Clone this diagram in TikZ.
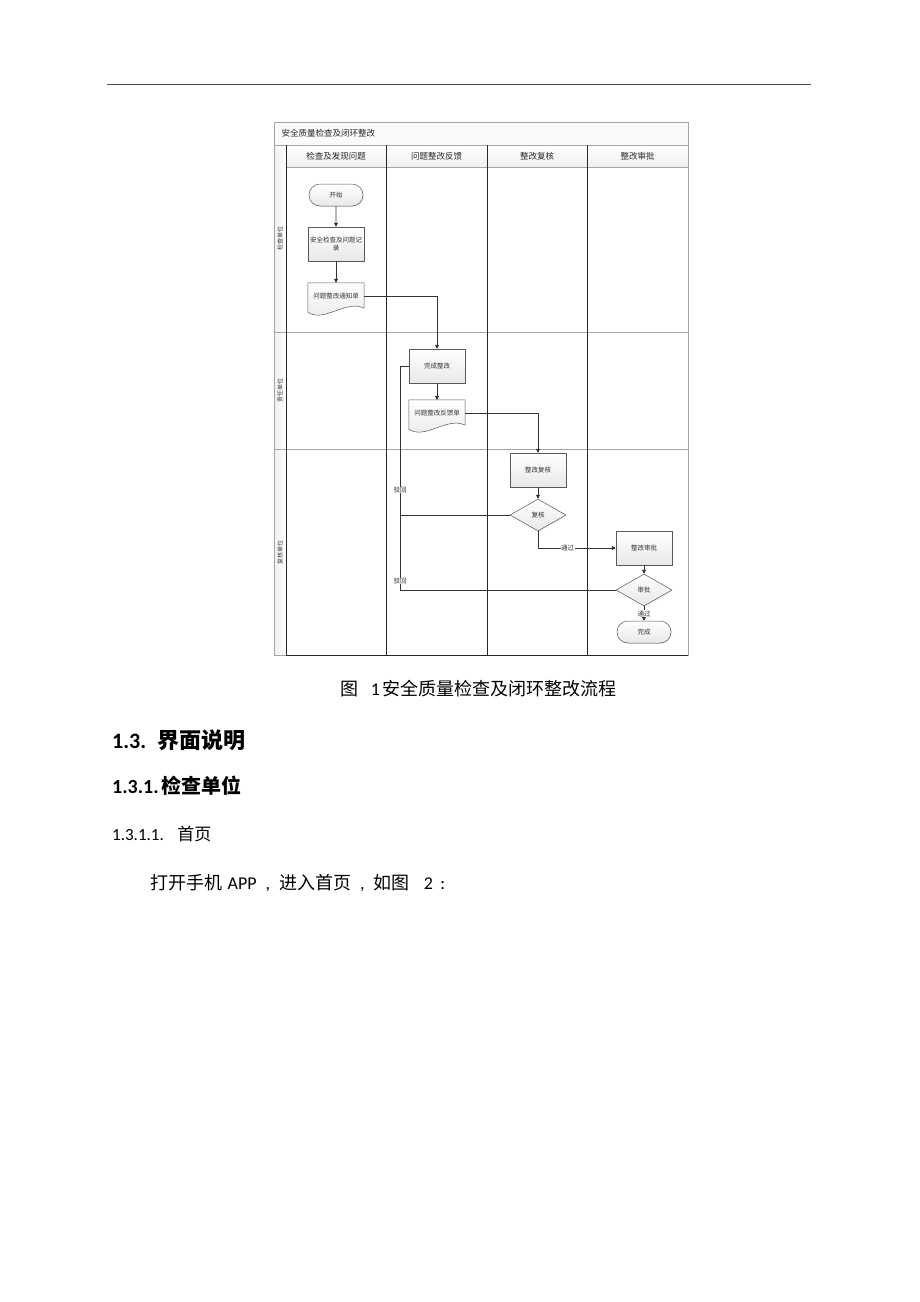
\documentclass[tikz,border=0pt]{standalone}
\usepackage{fontspec}
\setmainfont{Carlito}
\newfontfamily\cjk{Noto Sans CJK SC}
\usetikzlibrary{shapes.geometric,shapes.misc,arrows.meta,calc,backgrounds,shadows}
\pgfdeclarelayer{bottom}
\pgfsetlayers{bottom,background,main}
\tikzset{
  frameline/.style={draw=gray!70, line width=0.6pt},
  colline/.style={draw=black!85, line width=0.8pt},
  boxbase/.style={draw=gray!70!black, line width=0.5pt, top color=white, bottom color=gray!18,
     drop shadow={opacity=0.15, shadow xshift=1pt, shadow yshift=-1pt},
     font=\cjk\fontsize{6.5}{8}\selectfont, text=black!80, align=center, inner sep=1pt},
  proc/.style={boxbase, rectangle, minimum width=56pt, minimum height=34pt},
  term/.style={boxbase, rounded rectangle, minimum width=56pt, minimum height=22pt},
  decide/.style={boxbase, diamond, aspect=1.75, minimum width=56pt, minimum height=32pt, inner sep=0pt},
  docnode/.style={font=\cjk\fontsize{6.5}{8}\selectfont, text=black!80, minimum width=56pt, minimum height=26pt, inner sep=1pt},
  docpath/.style={draw=gray!70!black, line width=0.5pt, top color=white, bottom color=gray!18},
  conn/.style={draw=black!80, line width=0.6pt},
  arr/.style={conn, -{Triangle[length=4pt,width=4pt]}},
  lbl/.style={font=\cjk\fontsize{6.5}{8}\selectfont, text=black!80, fill=white, inner sep=0.5pt},
  hdr/.style={font=\cjk\fontsize{8.5}{10}\selectfont, text=black!85},
  lane/.style={font=\cjk\fontsize{6}{7}\selectfont, text=black!75, rotate=90},
  bodytext/.style={anchor=west, inner sep=0pt, text=black},
}
\newcommand\docshape[1]{%
  \path[docpath] (#1.north west) -- (#1.north east) -- ($(#1.south east)+(0,-1)$)
   .. controls ($(#1.south)+(10,-10)$) and ($(#1.south)+(-12,14)$) .. ($(#1.south west)+(0,3)$) -- cycle;}
\begin{document}
\begin{tikzpicture}[x=1pt,y=-1pt]
\useasboundingbox (0,0) rectangle (920,1302);
\begin{pgfonlayer}{bottom}
\fill[white] (0,0) rectangle (920,1302);
\end{pgfonlayer}
% page header line
\coordinate (hl) at (107,84.5);
\coordinate (hr) at (811,84.5);
\draw[line width=1.3pt, black!70] (hl) -- (hr);

% swimlane frame
\begin{pgfonlayer}{bottom}
\path[fill=gray!4] (274,122) rectangle (688,145);
\path[top color=white, bottom color=gray!12] (286,145) rectangle (688,167);
\path[left color=gray!12, right color=white] (274,145) rectangle (286,655);
\end{pgfonlayer}
\draw[frameline] (274,122) rectangle (688,655);
\draw[frameline] (274,145) -- (688,145);
\draw[frameline] (286,167) -- (688,167);
\draw[frameline] (286,332) -- (688,332);
\draw[frameline] (286,449) -- (688,449);
\draw[frameline] (274,449) -- (286,449);
\draw[frameline] (274,332) -- (286,332);
\draw[colline] (286,145) -- (286,655);
\draw[colline] (386,145) -- (386,655);
\draw[colline] (487,145) -- (487,655);
\draw[colline] (587,145) -- (587,655);
\draw[colline] (286,655) -- (688,655);

\node[hdr, anchor=west] (title) at (278,133.5) {安全质量检查及闭环整改};
\node[hdr] (h1) at (336,156) {检查及发现问题};
\node[hdr] (h2) at (436.5,156) {问题整改反馈};
\node[hdr] (h3) at (537,156) {整改复核};
\node[hdr] (h4) at (637.5,156) {整改审批};
\node[lane] (l1) at (280,238) {检查单位};
\node[lane] (l2) at (280,390) {责任单位};
\node[lane] (l3) at (280,552) {复核单位};

% shapes
\node[term] (start) at (336,195) {开始};
\node[proc] (rec) at (336,244) {安全检查及问题记\\录};
\node[docnode] (notice) at (336,296) {问题整改通知单};
\node[proc] (fix) at (437,366) {完成整改};
\node[docnode] (fb) at (437,413) {问题整改反馈单};
\node[proc] (review) at (538,470) {整改复核};
\node[decide] (d1) at (538,515) {复核};
\node[proc] (approve) at (644,548) {整改审批};
\node[decide] (d2) at (644,590) {审批};
\node[term] (finish) at (644,632) {完成};
\begin{pgfonlayer}{background}
\docshape{notice}
\docshape{fb}
\end{pgfonlayer}
\coordinate (cx) at (400,0);

% connectors
\draw[arr] (start) -- (rec);
\draw[arr] (rec) -- (notice);
\draw[arr] (notice.east) -| (fix.north);
\draw[arr] (fix) -- (fb);
\draw[arr] (fb.east) -| (review.north);
\draw[arr] (review) -- (d1);
\draw[conn] (d1.west) -- (d1.west -| cx) -- (fix.west -| cx) -- (fix.west);
\draw[conn] (d2.west) -- (d2.west -| cx) -- (d1.west -| cx);
\draw[arr] (d1.south) |- node[lbl, pos=0.69] (pass1) {通过} (approve.west);
\draw[arr] (approve) -- (d2);
\draw[arr] (d2) -- node[lbl] (pass2) {通过} (finish);
\node[lbl] (rej1) at (400,490) {驳回};
\node[lbl] (rej2) at (400,581) {驳回};

% text below
\node[bodytext, font=\fontsize{18}{20}\selectfont] (cap) at (340,689) {{\cjk 图}\hspace{0.7em}1\,{\cjk 安全质量检查及闭环整改流程}};
\node[bodytext, font=\bfseries\fontsize{22}{24}\selectfont] (s13) at (112,740) {1.3.\hspace{0.5em}{\cjk\bfseries 界面说明}};
\node[bodytext, font=\bfseries\fontsize{20}{22}\selectfont] (s131) at (112,786) {1.3.1.\,{\cjk\bfseries 检查单位}};
\node[bodytext, font=\fontsize{17}{19}\selectfont] (s1311) at (112,834) {1.3.1.1.\hspace{0.8em}{\cjk 首页}};
\node[bodytext, font=\fontsize{18}{20}\selectfont] (para) at (150,883) {{\cjk 打开手机}\hspace{0.3em}APP\hspace{0.5em},\hspace{0.5em}{\cjk 进入首页}\hspace{0.5em},\hspace{0.5em}{\cjk 如图}\hspace{0.8em}2\hspace{0.4em}:};
\end{tikzpicture}
\end{document}
